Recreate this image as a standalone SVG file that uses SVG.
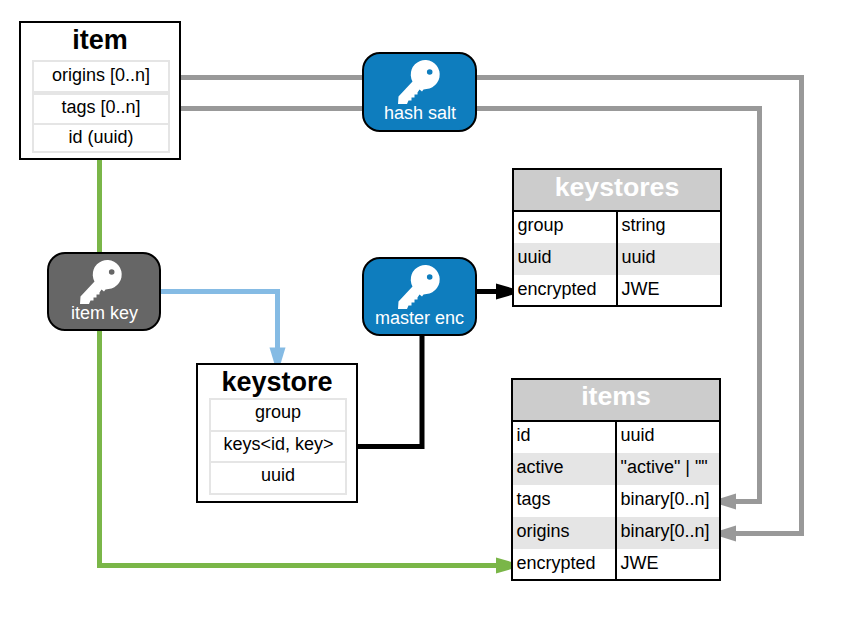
<svg xmlns="http://www.w3.org/2000/svg" width="842" height="621" viewBox="0 0 842 621">
<style>
text{font-family:"Liberation Sans",Arial,sans-serif;fill:#000}
.t{font-size:18px;text-anchor:start}
.c{font-size:18px;text-anchor:middle}
.h{font-size:27px;font-weight:bold;text-anchor:middle}
.th{font-size:26.700px;font-weight:bold;text-anchor:middle;fill:#fff}
.w{font-size:18px;text-anchor:middle;fill:#fff}
.box{fill:#fff;stroke:#000;stroke-width:2}
.cell{fill:#fff;stroke:#e5e5e5;stroke-width:2}
.pill{stroke:#000;stroke-width:2}
.grey{fill:none;stroke:#999;stroke-width:5}
.hd{fill:#ccc}
.row{fill:#e5e5e5}
.ln{fill:none;stroke:#000;stroke-width:2}
.key{fill:#fff;fill-rule:evenodd}
</style>
<defs>
<path id="k" class="key" d="M1,35 L15,20 A14.500,14.500 0 1 1 29,27.500 L26,28 L24.500,30 L22,28 L20,31 L20,33 L17,33 L17,36 L14,36 L14,39 L11,39 L9.500,42.500 L0.500,42.500 Z M35,10.500 a2.800,2.800 0 1 0 -5.600,0 a2.800,2.800 0 1 0 5.600,0 Z"/>
</defs>
<g id="connectors">
<path d="M99.500,159 V565.500 H497" fill="none" stroke="#7ab648" stroke-width="5"/>
<path d="M496,557.500 L513,562.500 V568.500 L496,573.500 Z" fill="#7ab648"/>
<path d="M161,291.500 H277.500 V349" fill="none" stroke="#85bbe4" stroke-width="5"/>
<path d="M269.500,347.500 H285.500 L280.500,364 H274.500 Z" fill="#85bbe4"/>
<path d="M357,446.500 H422 V335" fill="none" stroke="#000" stroke-width="5"/>
<path d="M476,291.500 H497" fill="none" stroke="#000" stroke-width="5"/>
<path d="M496,283.500 L513,288.500 V294.500 L496,299.500 Z" fill="#000"/>
<path class="grey" d="M170,77.500 H801.500 V533.500 H736"/>
<path class="grey" d="M170,108.500 H759.500 V501.500 H736"/>
<path d="M736,493.500 V509.500 L720,504.500 V498.500 Z" fill="#999"/>
<path d="M736,525.500 V541.500 L720,536.500 V530.500 Z" fill="#999"/>
</g>
<g id="item">
<rect class="box" x="20" y="22" width="160" height="137"/>
<text class="h" x="100" y="48.500">item</text>
<rect class="cell" x="33" y="61" width="136" height="31"/>
<rect class="cell" x="33" y="94" width="136" height="30"/>
<rect class="cell" x="33" y="124" width="136" height="28"/>
<text class="c" x="101" y="81">origins [0..n]</text>
<text class="c" x="101" y="113">tags [0..n]</text>
<text class="c" x="101" y="143">id (uuid)</text>
</g>
<g id="hash-salt">
<rect class="pill" x="363" y="53" width="113" height="78" rx="17" fill="#0e7dbe"/>
<use href="#k" x="397.500" y="61.500"/>
<text class="w" x="420" y="119">hash salt</text>
</g>
<g id="item-key">
<rect class="pill" x="48" y="253" width="112" height="77" rx="17" fill="#666"/>
<use href="#k" x="79.500" y="261.500"/>
<text class="w" x="104.500" y="319">item key</text>
</g>
<g id="master-enc">
<rect class="pill" x="363" y="258" width="113" height="77" rx="17" fill="#0e7dbe"/>
<use href="#k" x="397.500" y="266.500"/>
<text class="w" x="419.500" y="324">master enc</text>
</g>
<g id="keystore">
<rect class="box" x="197" y="364" width="160" height="138"/>
<text class="h" x="277" y="391">keystore</text>
<rect class="cell" x="210" y="399" width="136" height="32"/>
<rect class="cell" x="210" y="431" width="136" height="31"/>
<rect class="cell" x="210" y="462" width="136" height="32"/>
<text class="c" x="278" y="418">group</text>
<text class="c" x="278.500" y="450">keys&lt;id, key&gt;</text>
<text class="c" x="278" y="481">uuid</text>
</g>
<g id="keystores">
<rect class="box" x="513" y="169" width="208" height="137"/>
<rect class="hd" x="514" y="170" width="206" height="41"/>
<rect class="row" x="514" y="243" width="206" height="32"/>
<path class="ln" d="M513,211 H721 M617,211 V306"/>
<rect x="513" y="169" width="208" height="137" fill="none" stroke="#000" stroke-width="2"/>
<text class="th" x="617" y="196">keystores</text>
<text class="t" x="517.500" y="231">group</text><text class="t" x="621.500" y="231">string</text>
<text class="t" x="517.500" y="263">uuid</text><text class="t" x="621.500" y="263">uuid</text>
<text class="t" x="517.500" y="295">encrypted</text><text class="t" x="621.500" y="295">JWE</text>
</g>
<g id="items">
<rect class="box" x="512" y="379" width="208" height="201"/>
<rect class="hd" x="513" y="380" width="206" height="41"/>
<rect class="row" x="513" y="453" width="206" height="32"/>
<rect class="row" x="513" y="517" width="206" height="32"/>
<path class="ln" d="M512,421 H720 M616,421 V580"/>
<rect x="512" y="379" width="208" height="201" fill="none" stroke="#000" stroke-width="2"/>
<text class="th" x="616" y="405">items</text>
<text class="t" x="516.500" y="441">id</text><text class="t" x="620.500" y="441">uuid</text>
<text class="t" x="516.500" y="473">active</text><text class="t" x="620.500" y="473">"active" | ""</text>
<text class="t" x="516.500" y="505">tags</text><text class="t" x="620.500" y="505">binary[0..n]</text>
<text class="t" x="516.500" y="537">origins</text><text class="t" x="620.500" y="537">binary[0..n]</text>
<text class="t" x="516.500" y="569">encrypted</text><text class="t" x="620.500" y="569">JWE</text>
</g>
</svg>
